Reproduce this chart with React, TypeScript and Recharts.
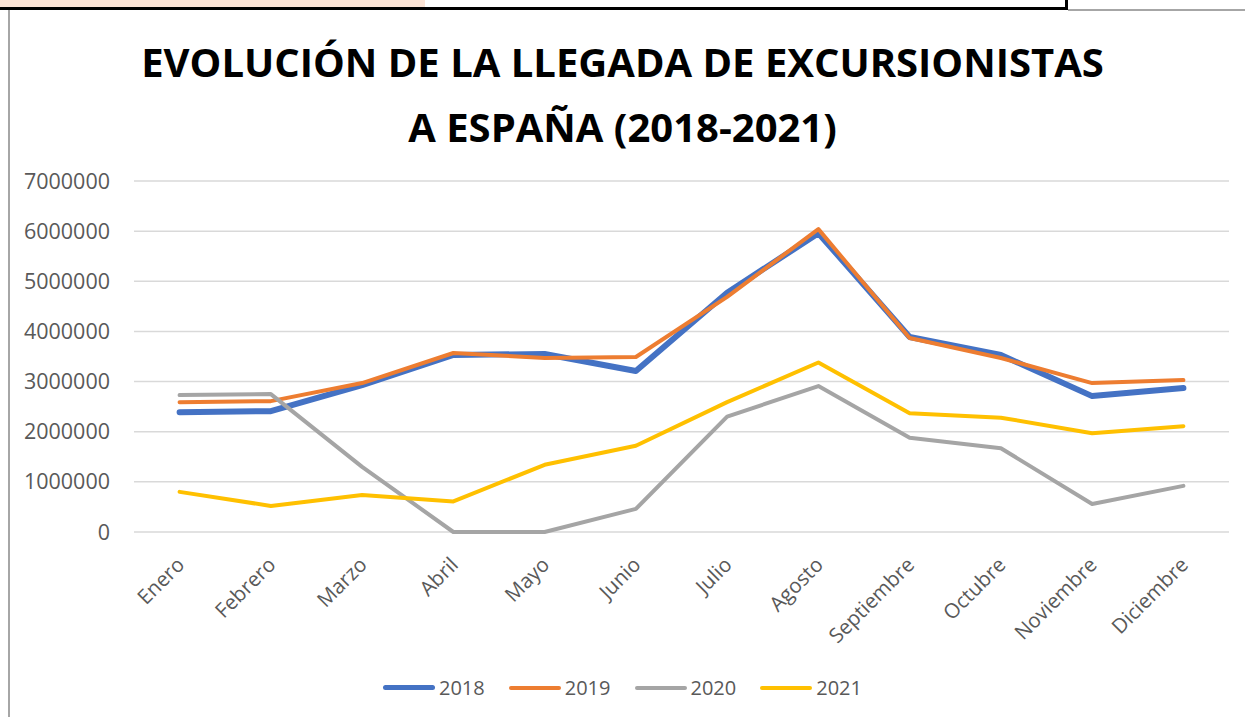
import { CartesianGrid, Line, LineChart, XAxis, YAxis } from "recharts";

const months = ["Enero", "Febrero", "Marzo", "Abril", "Mayo", "Junio", "Julio", "Agosto", "Septiembre", "Octubre", "Noviembre", "Diciembre"];
const y2018 = [2390000, 2410000, 2930000, 3530000, 3550000, 3210000, 4770000, 5960000, 3890000, 3530000, 2710000, 2870000];
const y2019 = [2590000, 2610000, 2970000, 3570000, 3470000, 3490000, 4690000, 6040000, 3870000, 3470000, 2970000, 3030000];
const y2020 = [2730000, 2750000, 1300000, 0, 0, 460000, 2300000, 2910000, 1880000, 1670000, 560000, 920000];
const y2021 = [800000, 520000, 740000, 610000, 1340000, 1720000, 2590000, 3380000, 2370000, 2280000, 1970000, 2110000];
const yTicks = [0, 1000000, 2000000, 3000000, 4000000, 5000000, 6000000, 7000000];

const series = [
  { key: "2018", color: "#4472C4", width: 6 },
  { key: "2019", color: "#ED7D31", width: 4 },
  { key: "2020", color: "#A5A5A5", width: 4 },
  { key: "2021", color: "#FFC000", width: 4 }
];

const data = months.map((month, i) => ({
  month,
  "2018": y2018[i],
  "2019": y2019[i],
  "2020": y2020[i],
  "2021": y2021[i]
}));

const font = "'Open Sans', sans-serif";

function MonthTick({ x, y, payload }: any) {
  return (
    <g transform={`translate(${x + 1},${y + 21}) rotate(-45)`}>
      <text textAnchor="end" dy="0.35em" fontSize={20.5} fill="#595959" fontFamily={font}>
        {payload.value}
      </text>
    </g>
  );
}

function LegendRow() {
  return (
    <div style={{ display: "flex", justifyContent: "center", gap: 24, fontFamily: font, fontSize: 20, color: "#595959" }}>
      {series.map((s) => (
        <div key={s.key} style={{ display: "flex", alignItems: "center", gap: 4 }}>
          <span style={{ display: "inline-block", width: 52, height: s.width === 6 ? 5 : 4, borderRadius: 3, background: s.color }} />
          <span>{s.key}</span>
        </div>
      ))}
    </div>
  );
}

export default function App() {
  return (
    <div style={{ position: "absolute", left: 0, top: 0, width: 1245, height: 717, background: "#fff", overflow: "hidden" }}>
      <div style={{ position: "absolute", left: 0, top: 0, width: 425, height: 7, background: "#FCE4D6" }} />
      <div style={{ position: "absolute", left: 0, top: 7, width: 1068, height: 3, background: "#000" }} />
      <div style={{ position: "absolute", left: 1065, top: 0, width: 3, height: 10, background: "#000" }} />
      <div style={{ position: "absolute", left: 1068, top: 9, width: 177, height: 2, background: "#a6a6a6" }} />
      <div style={{ position: "absolute", left: 8, top: 10, width: 2, height: 707, background: "#a6a6a6" }} />

      <div style={{ position: "absolute", left: 0, top: 29, width: 1245, textAlign: "center", fontFamily: font, fontWeight: 700, fontSize: 40, lineHeight: "65px", color: "#000" }}>
        <div>EVOLUCIÓN DE LA LLEGADA DE EXCURSIONISTAS</div>
        <div>A ESPAÑA (2018-2021)</div>
      </div>

      <div style={{ position: "absolute", left: 0, top: 674, width: 1245 }}>
        <LegendRow />
      </div>

      <div style={{ position: "absolute", left: 0, top: 0 }}>
        <LineChart width={1245} height={717} data={data} margin={{ top: 181, right: 16, bottom: 155, left: 8 }}>
          <CartesianGrid vertical={false} stroke="#d9d9d9" strokeWidth={1.5} />
          <XAxis
            dataKey="month"
            height={30}
            interval={0}
            padding={{ left: 45.6, right: 45.6 }}
            axisLine={false}
            tickLine={false}
            tick={<MonthTick />}
          />
          <YAxis
            width={126}
            domain={[0, 7000000]}
            ticks={yTicks}
            axisLine={false}
            tickLine={false}
            tickMargin={18}
            tick={{ fontSize: 21.5, fill: "#595959", fontFamily: font }}
            tickFormatter={(v: number) => String(v)}
          />
          {series.map((s) => (
            <Line
              key={s.key}
              type="linear"
              dataKey={s.key}
              stroke={s.color}
              strokeWidth={s.width}
              strokeLinecap="round"
              strokeLinejoin="round"
              dot={false}
              activeDot={false}
              isAnimationActive={false}
            />
          ))}
        </LineChart>
      </div>
    </div>
  );
}
